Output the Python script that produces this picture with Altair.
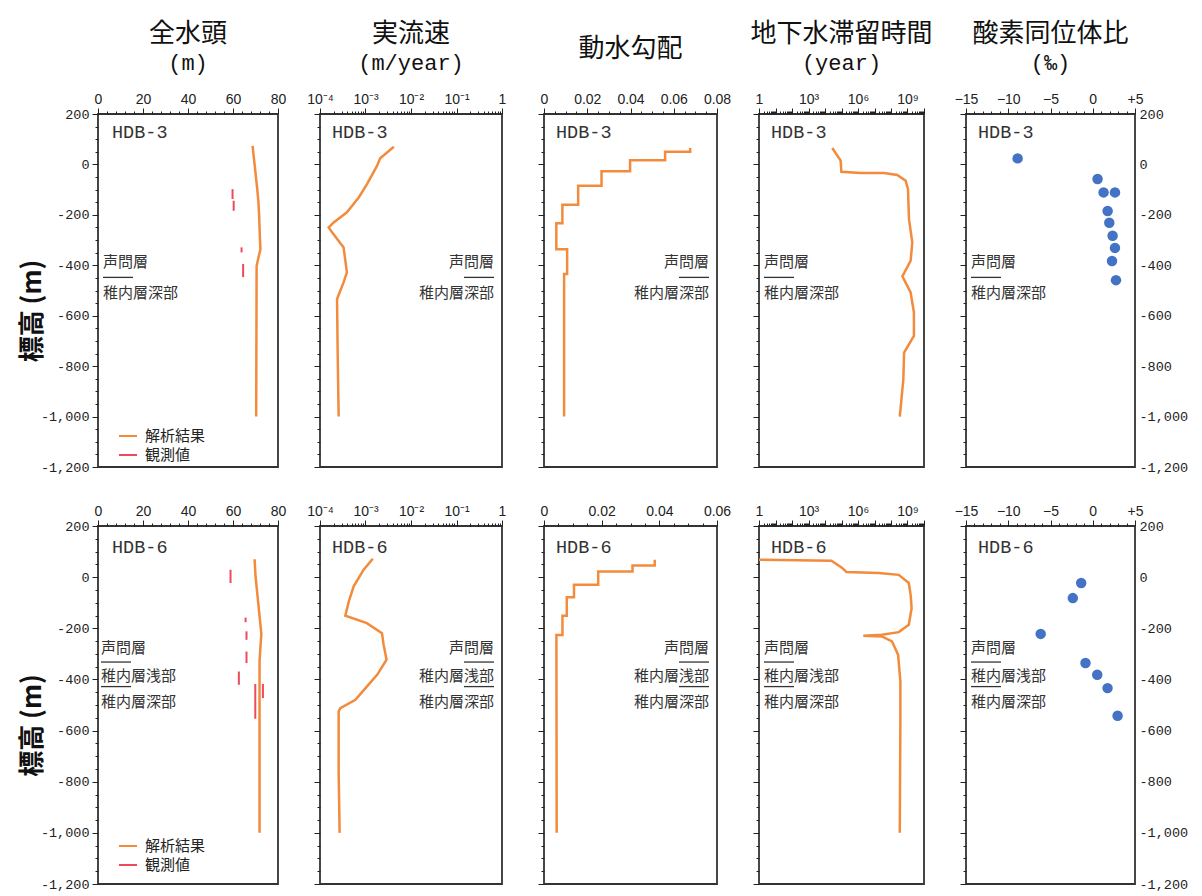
import json
import altair as alt
import pandas as pd

CJK = "Noto Sans CJK JP"
MONO = "Liberation Mono"
SANS = "Liberation Sans"
ORANGE = "#f28b3c"
RED = "#ee4a5c"
BLUE = "#4472c4"
INK = "#222222"
FRAME = "#333333"

# ---------------- text ----------------
wells = ["HDB-3", "HDB-6"]
col_titles = ["全水頭", "実流速", "動水勾配", "地下水滞留時間", "酸素同位体比"]
col_units = ["(m)", "(m/year)", "", "(year)", "(‰)"]
y_title = "標高 (m)"
legend_labels = ["解析結果", "観測値"]

# ---------------- HDB-3 data ----------------
head3_elev = [74, 40, 0, -50, -100, -150, -200, -250, -300, -336, -370, -402, -1000]
head3_val = [68.7, 69.1, 69.6, 70.2, 70.8, 71.3, 71.6, 71.8, 72.0, 72.2, 71.3, 70.5, 70.3]
obs3_val = [59.8, 60.3, 63.8, 64.5]
obs3_top = [-98, -144, -329, -395]
obs3_bot = [-137, -184, -349, -447]

vel3_elev = [70, 24, -5, -78, -131, -190, -230, -250, -269, -329, -428, -468, -534, -759, -1000]
vel3_val = [4.2e-3, 2.1e-3, 1.8e-3, 1.08e-3, 7.1e-4, 3.9e-4, 2.0e-4, 1.55e-4, 1.84e-4,
            3.3e-4, 3.9e-4, 3.3e-4, 2.37e-4, 2.45e-4, 2.57e-4]

grad3_elev = [65, 50, 50, 17, 17, -27, -27, -85, -85, -160, -160, -233, -233, -336, -336, -435, -435, -1000]
grad3_val = [0.0676, 0.0676, 0.056, 0.056, 0.0398, 0.0398, 0.0266, 0.0266, 0.0158, 0.0158,
             0.0085, 0.0085, 0.0057, 0.0057, 0.0107, 0.0107, 0.0093, 0.0093]

res3_elev = [65, 15, -29, -34, -34, -42, -65, -98, -217, -309, -382, -444, -508, -587, -680, -746, -852, -1000]
res3_val = [2.75e4, 8.9e4, 9.8e4, 1.45e6, 3.8e7, 2.4e8, 7.8e8, 1.07e9, 1.23e9, 1.95e9,
            1.55e9, 4.9e8, 1.55e9, 2.45e9, 2.45e9, 6.2e8, 5.6e8, 3.4e8]

iso3_elev = [24, -58, -111, -111, -185, -231, -283, -331, -383, -459]
iso3_val = [-8.89, 0.57, 1.28, 2.63, 1.76, 1.96, 2.35, 2.63, 2.28, 2.75]

form3_names = ["声問層", "稚内層深部"]
form3_elev = [-388, -508]
bound3_elev = [-448]

# ---------------- HDB-6 data ----------------
head6_elev = [70, 5, -100, -222, -300, -330, -1000]
head6_val = [69.6, 70.0, 71.2, 72.6, 72.0, 71.8, 71.8]
obs6_val = [58.9, 65.6, 66.0, 66.0, 62.6, 69.9, 73.3]
obs6_top = [29, -158, -212, -291, -369, -418, -418]
obs6_bot = [-23, -176, -245, -336, -421, -554, -473]

vel6_elev = [72, 29, -36, -95, -151, -180, -219, -264, -323, -382, -434, -480, -512, -525, -760, -1000]
vel6_val = [1.45e-3, 9.1e-4, 5.5e-4, 4.3e-4, 3.6e-4, 1.07e-3, 2.3e-3, 2.5e-3, 2.9e-3,
            1.8e-3, 1.0e-3, 6.0e-4, 2.8e-4, 2.57e-4, 2.57e-4, 2.7e-4]

grad6_elev = [68, 46, 46, 22, 22, -30, -30, -79, -79, -151, -151, -226, -226, -1000]
grad6_val = [0.0384, 0.0384, 0.0307, 0.0307, 0.0188, 0.0188, 0.0104, 0.0104, 0.0079, 0.0079,
             0.0064, 0.0064, 0.0043, 0.0044]

res6_elev = [68, 64, 38, 20, 16, 9, -23, -69, -121, -186, -215, -225, -229, -232, -251, -304, -408, -564, -1000]
res6_val = [1, 2.45e4, 1.0e5, 2.0e5, 1.8e7, 2.95e8, 1.2e9, 1.55e9, 1.78e9, 1.2e9, 2.95e8,
            2.8e7, 2.1e6, 2.8e7, 1.15e8, 2.7e8, 3.7e8, 3.7e8, 3.4e8]

iso6_elev = [-23, -82, -222, -336, -382, -434, -542]
iso6_val = [-1.37, -2.36, -6.16, -0.86, 0.53, 1.75, 2.94]

form6_names = ["声問層", "稚内層浅部", "稚内層深部"]
form6_elev = [-278, -385, -489]
bound6_elev = [-332, -428]

# ---------------- axis tick lists ----------------
head_ticks = [i * 4 for i in range(21)]
head_major = [0, 20, 40, 60, 80]
head_lab = ["0", "20", "40", "60", "80"]

vel_ticks = [round(m * 10.0 ** e, 10) for e in range(-4, 0) for m in range(1, 10)] + [1]
vel_major = [0.0001, 0.001, 0.01, 0.1, 1]
vel_lab = ["10⁻⁴", "10⁻³", "10⁻²", "10⁻¹", "1"]

grad3_ticks = [round(i * 0.005, 4) for i in range(17)]
grad3_major = [0, 0.02, 0.04, 0.06, 0.08]
grad3_lab = ["0", "0.02", "0.04", "0.06", "0.08"]
grad6_ticks = [round(i * 0.005, 4) for i in range(13)]
grad6_major = [0, 0.02, 0.04, 0.06]
grad6_lab = ["0", "0.02", "0.04", "0.06"]

res_ticks = [m * 10 ** e for e in range(0, 10) for m in range(1, 10)] + [10 ** 10]
res_decades = [10 ** e for e in range(0, 11)]
res_major = [1, 1000, 10 ** 6, 10 ** 9]
res_lab = ["1", "10³", "10⁶", "10⁹"]

iso_ticks = list(range(-15, 6))
iso_major = [-15, -10, -5, 0, 5]
iso_lab = ["−15", "−10", "−5", "0", "+5"]

YT = list(range(-1200, 201, 50))

W = [180, 182, 173, 165, 169]
H = [353, 358]

YSCALE = alt.Scale(domain=[-1200, 200], nice=False, zero=False)
Y_LABEL_EXPR = "datum.value % 200 === 0 ? replace(format(datum.value, ','), '\u2212', '-') : ''"
Y_TICK = {"condition": {"test": "datum.value % 200 === 0", "value": 6}, "value": 3}


def y_axis(kind, row):
    kw = dict(values=YT, grid=False, domain=False, tickColor=INK, tickWidth=1,
              labelOverlap=False, title=None)
    if kind == "left_labels":
        kw.update(orient="left", labels=True, tickSize=Y_TICK, labelExpr=Y_LABEL_EXPR, labelFont=MONO,
                  labelFontSize=13.5, labelColor=INK, labelPadding=3,
                  title=y_title, titleFont=CJK, titleFontSize=26, titleFontWeight="bold",
                  titleColor="#111111", titleX=-66, titleY=H[row] / 2 + 20, titleAlign="center",
                  titleBaseline="middle", titleAngle=270)
    elif kind == "left":
        kw.update(orient="left", labels=False, tickSize=Y_TICK)
    else:
        kw.update(orient="right", labels=True, ticks=False, tickSize=0, labelExpr=Y_LABEL_EXPR,
                  labelFont=MONO, labelFontSize=13.5, labelColor=INK, labelPadding=4)
    return alt.Axis(**kw)


def x_axis(values, tick_major, label_vals, label_txt):
    vj = json.dumps(label_vals)
    tj = json.dumps(label_txt, ensure_ascii=False)
    mj = json.dumps(tick_major)
    return alt.Axis(
        orient="top", values=values, title=None, grid=False, domain=False,
        labelExpr=f"indexof({vj}, datum.value) >= 0 ? {tj}[indexof({vj}, datum.value)] : ''",
        tickSize={"condition": {"test": f"indexof({mj}, datum.value) >= 0", "value": 6}, "value": 3},
        labelFont=SANS, labelFontSize=14, labelColor=INK, labelPadding=2,
        labelOverlap=False, labelFlush=False, tickColor=INK, tickWidth=1)


def line_df(elev, val, kind=None):
    d = pd.DataFrame({"elev": elev, "val": val, "i": list(range(len(elev)))})
    if kind is not None:
        d["kind"] = kind
    return d


def make_panel(r, c):
    w, h = W[c], H[r]
    well = wells[r]
    yax = y_axis("left_labels" if c == 0 else "left", r)
    Y = alt.Y("elev:Q", scale=YSCALE, axis=yax)

    if c == 0:
        xs = alt.Scale(domain=[0, 80], nice=False, zero=False)
        xa = x_axis(head_ticks, head_major, head_major, head_lab)
    elif c == 1:
        xs = alt.Scale(type="log", domain=[1e-4, 1], nice=False)
        xa = x_axis(vel_ticks, vel_major, vel_major, vel_lab)
    elif c == 2:
        if r == 0:
            xs = alt.Scale(domain=[0, 0.08], nice=False, zero=False)
            xa = x_axis(grad3_ticks, grad3_major, grad3_major, grad3_lab)
        else:
            xs = alt.Scale(domain=[0, 0.06], nice=False, zero=False)
            xa = x_axis(grad6_ticks, grad6_major, grad6_major, grad6_lab)
    elif c == 3:
        xs = alt.Scale(type="log", domain=[1, 1e10], nice=False)
        xa = x_axis(res_ticks, res_decades, res_major, res_lab)
    else:
        xs = alt.Scale(domain=[-15, 5], nice=False, zero=False)
        xa = x_axis(iso_ticks, iso_major, iso_major, iso_lab)
    X = alt.X("val:Q", scale=xs, axis=xa)

    layers = []
    if c == 0:
        elev, val = (head3_elev, head3_val) if r == 0 else (head6_elev, head6_val)
        ov, ot, ob = (obs3_val, obs3_top, obs3_bot) if r == 0 else (obs6_val, obs6_top, obs6_bot)
        color = alt.Color(
            "kind:N",
            scale=alt.Scale(domain=legend_labels, range=[ORANGE, RED]),
            legend=alt.Legend(title=None, orient="none", legendX=20, legendY=312 if r == 0 else 310,
                              symbolType="stroke", symbolSize=324, symbolStrokeWidth=2,
                              labelFont=CJK, labelFontSize=15, labelColor=INK, labelOffset=7,
                              rowPadding=1, padding=0, direction="vertical"))
        layers.append(alt.Chart(line_df(elev, val, legend_labels[0])).mark_line(strokeWidth=2.5)
                      .encode(x=X, y=Y, order="i:Q", color=color))
        obs = pd.DataFrame({"val": ov, "top": ot, "bot": ob, "kind": legend_labels[1]})
        layers.append(alt.Chart(obs).mark_rule(strokeWidth=2)
                      .encode(x=X, y=alt.Y("top:Q", scale=YSCALE, axis=yax), y2="bot:Q", color=color))
    elif c in (1, 2, 3):
        src = {1: ((vel3_elev, vel3_val), (vel6_elev, vel6_val)),
               2: ((grad3_elev, grad3_val), (grad6_elev, grad6_val)),
               3: ((res3_elev, res3_val), (res6_elev, res6_val))}[c][r]
        layers.append(alt.Chart(line_df(*src)).mark_line(color=ORANGE, strokeWidth=2.5)
                      .encode(x=X, y=Y, order="i:Q"))
    else:
        elev, val = (iso3_elev, iso3_val) if r == 0 else (iso6_elev, iso6_val)
        iso_df = pd.DataFrame({"elev": elev, "val": val})
        layers.append(alt.Chart(iso_df).mark_circle(size=110, color=BLUE, opacity=1)
                      .encode(x=X, y=Y))

    # formation annotations
    names, f_elev, b_elev = (form3_names, form3_elev, bound3_elev) if r == 0 else \
        (form6_names, form6_elev, bound6_elev)
    if c in (1, 2):
        tx, align = w - 8, "right"
        rx1, rx2 = w - 38, w - 8
    else:
        tx = 5 if (c != 0 or r == 0) else 3
        align = "left"
        rx1, rx2 = tx, tx + 30
    fdf = pd.DataFrame({"elev": f_elev, "name": names})
    layers.append(alt.Chart(fdf).mark_text(align=align, baseline="middle", font=CJK, fontSize=15,
                                           color="#333333")
                  .encode(x=alt.value(tx), y=Y, text="name:N"))
    bdf = pd.DataFrame({"elev": b_elev})
    layers.append(alt.Chart(bdf).mark_rule(color="#333333", strokeWidth=1.3)
                  .encode(x=alt.value(rx1), x2=alt.value(rx2), y=Y))
    wdf = pd.DataFrame({"name": [well]})
    layers.append(alt.Chart(wdf).mark_text(align="left", baseline="middle", font=MONO, fontSize=18.5,
                                           color="#333333")
                  .encode(x=alt.value(14 if c == 0 else 12), y=alt.value(18 if r == 0 else 21),
                          text="name:N"))

    chart = alt.layer(*layers)
    if c == 4:
        elev, val = (iso3_elev, iso3_val) if r == 0 else (iso6_elev, iso6_val)
        right = alt.Chart(pd.DataFrame({"elev": elev, "val": val})).mark_circle(opacity=0).encode(
            x=X, y=alt.Y("elev:Q", scale=YSCALE, axis=y_axis("right", r)))
        chart = alt.layer(chart, right).resolve_axis(y="independent")
    chart = chart.properties(width=w, height=h,
                             view=alt.ViewConfig(stroke=FRAME, strokeWidth=1.8, fill="white"))
    if r == 0:
        tkw = dict(text=col_titles[c], frame="group", anchor="middle", font=CJK, fontSize=26,
                   fontWeight="normal", color="#111111")
        if col_units[c]:
            tkw.update(subtitle=col_units[c], subtitleFont=MONO, subtitleFontSize=22,
                       subtitleColor="#111111", subtitlePadding=6, offset=18)
        else:
            tkw.update(offset=30)
        chart = chart.properties(title=alt.TitleParams(**tkw))
    return chart


panels = [make_panel(r, c) for r in range(2) for c in range(5)]

chart = alt.concat(
    *panels, columns=5, spacing={"row": 59, "column": 42}, bounds="flush", align="each"
).resolve_scale(
    x="independent", y="independent", color="independent"
).properties(
    padding={"left": 10, "top": 12, "right": 2, "bottom": 0},
    background="white"
).configure_view(
    stroke=FRAME, strokeWidth=1.8
)

chart.save("out.html", embed_options={"renderer": "svg", "actions": False})
